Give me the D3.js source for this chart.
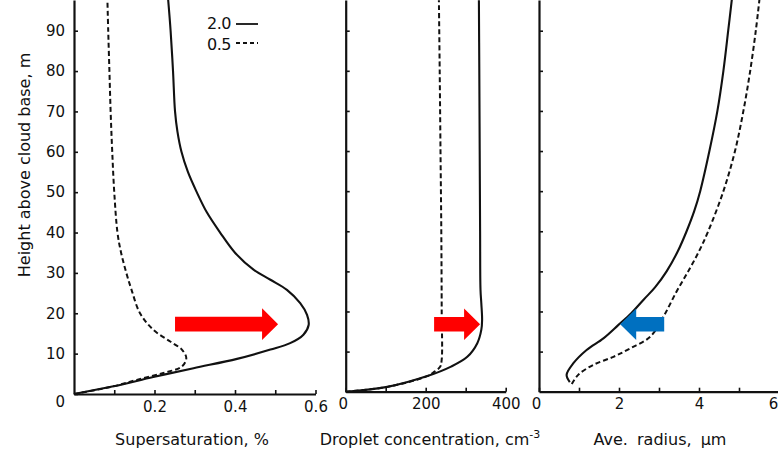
<!DOCTYPE html>
<html><head><meta charset="utf-8">
<script src="https://cdn.jsdelivr.net/npm/d3@7"></script>
<style>
html,body{margin:0;padding:0;background:#fff;}
svg{display:block;font-family:"DejaVu Sans",sans-serif;}
</style></head>
<body><svg id="c" width="778" height="452"></svg>
<script>
// ---- data (height above cloud base in m) ----
const heightTicks = [0,10,20,30,40,50,60,70,80,90];
const legendLabels = ["2.0","0.5"];

// Supersaturation, %  [value, height]
const ssSolid = [[0,0],[0.098,1.9],[0.197,4.2],[0.297,6.4],[0.405,8.7],[0.488,11.0],[0.537,12.6],[0.570,14.7],[0.583,17.1],[0.579,19.6],[0.562,22.5],[0.529,25.8],[0.488,28.3],[0.446,30.8],[0.400,35],[0.363,40],[0.330,45],[0.305,50],[0.283,55],[0.267,60],[0.257,65],[0.251,70],[0.246,80],[0.240,90],[0.234,97.6]];
const ssDashed = [[0,0],[0.098,1.9],[0.156,3.5],[0.222,5.2],[0.268,6.8],[0.279,8.9],[0.268,11.0],[0.239,13.0],[0.197,15.9],[0.164,20.0],[0.143,25.8],[0.130,30],[0.117,35],[0.108,40],[0.100,50],[0.095,60],[0.091,70],[0.088,80],[0.085,90],[0.083,97.6]];
const ssTicks = [0.1,0.2,0.3,0.4,0.5,0.6];
const ssTickLabels = ["","0.2","","0.4","","0.6"];

// Droplet concentration, cm-3
const ncSolid = [[0,0],[104,1.2],[204,3.9],[262,6.2],[304,8.7],[329,12.1],[339,15.4],[341,17.9],[339,22.1],[337,25.4],[336,40],[335,60],[334,80],[333,97.6]];
const ncDashed = [[0,0],[104,1.2],[204,3.9],[222,5.0],[236,6.2],[240,8],[240,20],[239,40],[237,60],[235,80],[233,97.6]];
const ncTicks = [0,100,200,300,400];
const ncTickLabels = ["0","","200","","400"];

// Ave. radius, um
const rSolid = [[0.77,2.4],[0.69,4.2],[0.86,7.1],[1.19,10.4],[1.61,13.3],[1.98,16.6],[2.30,19.5],[2.62,23],[2.90,26],[3.19,30],[3.47,35],[3.69,40],[3.88,45],[4.03,50],[4.26,60],[4.46,70],[4.61,80],[4.73,90],[4.82,97.7]];
const rDashed = [[0.82,1.9],[0.98,4.2],[1.36,6.7],[1.86,8.7],[2.28,10.8],[2.78,13.7],[3.11,18.7],[3.44,25],[3.73,30],[4.00,35],[4.23,40],[4.61,50],[4.90,60],[5.11,70],[5.28,80],[5.42,90],[5.51,97.7]];
const rTicks = [0,1,2,3,4,5,6];
const rTickLabels = ["0","","2","","4","","6"];

// annotation arrows: [fromValue, toValue, height]
const arrowSS = [0.251, 0.507, 17.3];
const arrowNC = [221, 336, 16.8];
const arrowR  = [3.13, 2.03, 16.8];

const xTitles = ["Supersaturation, %","Droplet concentration, cm","Ave. radius, \u03bcm"];
const yTitle = "Height above cloud base, m";

// ---- layout ----
const svg = d3.select("#c");
const panels = [
  {x0:74, x1:315.5, y0:394, dom:[0,0.6], ticks:ssTicks, labels:ssTickLabels, solid:ssSolid, dashed:ssDashed, arrow:arrowSS, color:"#ff0000", yLabels:true},
  {x0:345.7, x1:505.7, y0:391.7, dom:[0,400], ticks:ncTicks, labels:ncTickLabels, solid:ncSolid, dashed:ncDashed, arrow:arrowNC, color:"#ff0000", yLabels:false},
  {x0:539, x1:779, y0:391.7, dom:[0,6], ticks:rTicks, labels:rTickLabels, solid:rSolid, dashed:rDashed, arrow:arrowR, color:"#0070c0", yLabels:false}
];
const yTopPx = 30.7; // pixel position of 90 m

panels.forEach((p,i)=>{
  const x = d3.scaleLinear().domain(p.dom).range([p.x0,p.x1]);
  const y = d3.scaleLinear().domain([0,90]).range([p.y0,yTopPx]);
  const yMax = y.invert(0);
  const g = svg.append("g");

  // curves
  const line = d3.line().x(d=>x(d[0])).y(d=>y(d[1])).curve(d3.curveCatmullRom.alpha(0.5));
  g.append("path").attr("d",line(p.solid)).attr("fill","none").attr("stroke","#111").attr("stroke-width",2.1);
  g.append("path").attr("d",line(p.dashed)).attr("fill","none").attr("stroke","#111").attr("stroke-width",2).attr("stroke-dasharray","5,3");

  // x axis
  const xa = d3.axisBottom(x).tickValues(p.ticks).tickSize(-4).tickSizeOuter(0).tickPadding(7)
    .tickFormat((d,k)=>p.labels[k]);
  const gx = g.append("g").attr("transform",`translate(0,${p.y0})`).call(xa);
  gx.select(".domain").attr("stroke","#111").attr("stroke-width",2.2);
  gx.selectAll(".tick line").attr("stroke","#111").attr("stroke-width",1.6);
  gx.selectAll("text").attr("font-size",15).attr("fill","#111")
    .attr("font-family","DejaVu Sans, sans-serif")
    .attr("dx",(d)=> d===0 ? -3 : (x(d) > 774 ? -6 : 0));

  // y axis
  const ya = d3.axisLeft(y.copy().domain([0,yMax]).range([p.y0,0]))
    .tickValues(p.yLabels ? heightTicks : heightTicks.slice(1))
    .tickSize(-4).tickSizeOuter(0).tickPadding(9)
    .tickFormat(d=> p.yLabels ? d : "");
  const gy = g.append("g").attr("transform",`translate(${p.x0},0)`).call(ya);
  gy.select(".domain").attr("stroke","#111").attr("stroke-width",2.2);
  gy.selectAll(".tick line").attr("stroke","#111").attr("stroke-width",1.6);
  gy.selectAll("text").attr("font-size",15).attr("fill","#111")
    .attr("font-family","DejaVu Sans, sans-serif")
    .attr("dy",d=> d===0 ? "0.82em" : "0.32em");

  // arrow annotation
  const [a0,a1,h] = p.arrow;
  const xs = x(a0), xe = x(a1), yc = y(h);
  const dir = Math.sign(xe-xs);
  const bh = 7.3, hh = 15.8, hl = 16;
  const pts = [[xs,yc-bh],[xe-dir*hl,yc-bh],[xe-dir*hl,yc-hh],[xe,yc],[xe-dir*hl,yc+hh],[xe-dir*hl,yc+bh],[xs,yc+bh]];
  g.append("polygon").attr("points",pts.map(q=>q.join(",")).join(" ")).attr("fill",p.color);

  // x title
  const t = g.append("text").attr("y",445).attr("font-size",16).attr("fill","#111")
    .attr("font-family","DejaVu Sans, sans-serif").attr("text-anchor","middle")
    .attr("x",[192,430,660][i]);
  if(i===1){
    t.text(xTitles[i]);
    t.append("tspan").attr("dy",-7).attr("font-size",11).text("-3");
  } else t.text(xTitles[i]).attr("word-spacing", i===2 ? 4 : 0);
});

// y title
svg.append("text").attr("transform","translate(30,165) rotate(-90)")
  .attr("text-anchor","middle").attr("font-size",16).attr("fill","#111")
  .attr("font-family","DejaVu Sans, sans-serif").text(yTitle);

// legend
const lg = svg.append("g");
legendLabels.forEach((lab,k)=>{
  const yy = [24,43][k];
  lg.append("text").attr("x",231).attr("y",[29,50][k]).attr("text-anchor","end")
    .attr("font-size",16).attr("fill","#111").attr("letter-spacing",-0.5)
    .attr("font-family","DejaVu Sans, sans-serif").text(lab);
  lg.append("line").attr("x1",236).attr("x2",258).attr("y1",yy).attr("y2",yy)
    .attr("stroke","#111").attr("stroke-width",1.8)
    .attr("stroke-dasharray",k===1?"4,3":null);
});
</script></body></html>
